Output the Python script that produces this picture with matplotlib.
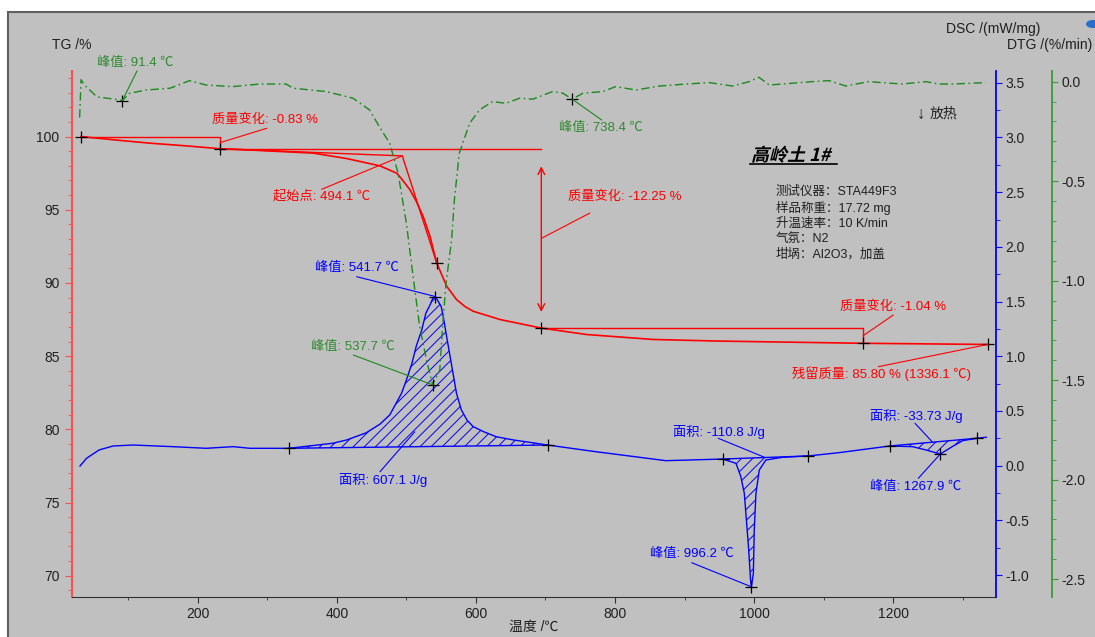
import numpy as np
import matplotlib
matplotlib.use('Agg')
import matplotlib.pyplot as plt
from matplotlib.patches import Rectangle, PathPatch, Circle
from matplotlib.textpath import TextPath
from matplotlib.font_manager import FontProperties
from matplotlib.transforms import Affine2D
from matplotlib.ticker import MultipleLocator, FormatStrFormatter

plt.rcParams['font.family'] = ['Liberation Sans', 'Noto Sans CJK SC', 'DejaVu Sans']
plt.rcParams['hatch.linewidth'] = 0.7

RED = '#ff0000'
BLUE = '#0000ff'
GREEN = '#1a8a1a'
GTXT = '#2e8b2e'

# TG curve (%)
T_tg = [32, 81, 131, 182, 232, 289, 366, 414, 462, 486, 495, 505, 514, 524, 534, 543.5,
        558, 572, 584, 596, 635, 694, 759, 855, 951, 1047, 1157, 1336.1]
tg = [100.0, 99.77, 99.55, 99.37, 99.17, 99.05, 98.87, 98.5, 98.0, 97.5, 97.0, 96.37, 95.6,
      94.55, 93.18, 91.37, 89.77, 88.87, 88.4, 88.07, 87.5, 86.92, 86.48, 86.14, 86.03,
      85.96, 85.88, 85.80]

# DTG curve (%/min)
T_dtg = [30, 32, 37, 55, 78, 91.4, 102, 126, 160, 188, 212, 250, 289, 327, 337, 385, 423,
         447, 461, 476, 488, 500, 509, 519, 529, 537.7, 548, 552, 557, 565, 569, 576, 591,
         605, 624, 643, 663, 682, 710, 725, 738.4, 754, 782, 801, 830, 864, 902, 936, 969,
         993, 1007, 1022, 1055, 1084, 1108, 1132, 1165, 1213, 1247, 1266, 1285, 1333]
dtg = [-0.18, 0.01, -0.017, -0.077, -0.087, -0.095, -0.058, -0.042, -0.033, 0.005, -0.017,
       -0.025, -0.012, -0.012, -0.033, -0.05, -0.083, -0.142, -0.226, -0.31, -0.46, -0.712,
       -0.963, -1.23, -1.40, -1.524, -1.45, -1.23, -1.013, -0.795, -0.594, -0.36, -0.209,
       -0.142, -0.1, -0.109, -0.083, -0.088, -0.05, -0.058, -0.088, -0.058, -0.05, -0.025,
       -0.042, -0.022, -0.012, -0.005, -0.022, 0.0, 0.022, -0.017, -0.008, 0.0, 0.005,
       -0.022, 0.0, -0.012, 0.0, -0.012, -0.012, -0.005]

# DSC curve (mW/mg)
T_dsc = [30.5, 40, 58, 78, 107, 164, 212, 251, 275, 331, 394, 414, 442, 462, 476, 486, 493,
         500, 508, 514, 522, 528, 534, 538, 541.7, 550, 553, 557, 562, 567, 572, 579, 587,
         596, 611, 629, 654, 677, 703, 770, 835, 873, 907, 954.7, 974, 981, 986, 989, 992,
         995, 996.2, 999, 1000.3, 1002.7, 1007.5, 1017, 1041, 1078, 1122, 1170, 1195, 1228,
         1247, 1267.9, 1285, 1300, 1321, 1334]
dsc = [-0.003, 0.068, 0.144, 0.18, 0.189, 0.174, 0.159, 0.174, 0.159, 0.159, 0.205, 0.235,
       0.30, 0.38, 0.464, 0.58, 0.662, 0.784, 0.937, 1.089, 1.24, 1.394, 1.47, 1.53, 1.546,
       1.455, 1.363, 1.211, 1.028, 0.845, 0.662, 0.51, 0.418, 0.357, 0.311, 0.265, 0.235,
       0.214, 0.189, 0.13, 0.077, 0.046, 0.052, 0.061, 0.022, -0.1, -0.253, -0.497, -0.741,
       -1.046, -1.107, -0.985, -0.588, -0.253, -0.04, 0.052, 0.077, 0.089, 0.119, 0.159,
       0.18, 0.174, 0.144, 0.107, 0.174, 0.229, 0.251, 0.26]

mass_T = [32, 232, 694, 1157]
onset_T = 494.1
onset_v = 98.68
infl_T = 543.5
residual_T = 1336.1
dtg_peaks = [91.4, 537.7, 738.4]
dsc_peaks = [541.7, 996.2, 1267.9]
dsc_areas = [(331, 703), (954.7, 1078), (1195, 1321)]

T_tg, tg = np.array(T_tg), np.array(tg)
T_dtg, dtg = np.array(T_dtg), np.array(dtg)
T_dsc, dsc = np.array(T_dsc), np.array(dsc)

W, H = 1095, 637
fig = plt.figure(figsize=(W / 100, H / 100), dpi=100)
fig.patch.set_facecolor('white')
fig.add_artist(Rectangle((8 / W, -0.01), 1, 1 - 12 / H + 0.01, transform=fig.transFigure,
                         facecolor='#c0c0c0', edgecolor='#606060', lw=1.5, zorder=-5))
fig.add_artist(Circle((1093 / W, 1 - 24 / H), 7 / W, transform=fig.transFigure,
                      facecolor='#2a6fd0', edgecolor='none', zorder=-4))


def fp(x, y):
    return (x / W, 1 - y / H)


ax = fig.add_axes([72 / W, 1 - 597 / H, 924 / W, 526.3 / H])
ax.set_facecolor('none')
ax2 = ax.twinx()
ax3 = ax.twinx()

ax.set_xlim(19, 1348)
ax.set_ylim(68.55, 104.5)
ax2.set_ylim(-1.20, 3.61)
ax3.set_ylim(-2.59, 0.055)

for a in (ax, ax2, ax3):
    a.spines['top'].set_visible(False)
ax.spines['right'].set_visible(False)
ax.spines['left'].set_color('#ff5050')
ax.spines['left'].set_linewidth(1.5)
ax.spines['bottom'].set_color('#303030')
ax2.spines['left'].set_visible(False)
ax2.spines['bottom'].set_visible(False)
ax2.spines['right'].set_color(BLUE)
ax2.spines['right'].set_linewidth(1.3)
ax3.spines['left'].set_visible(False)
ax3.spines['bottom'].set_visible(False)
ax3.spines['right'].set_position(('axes', 1.0606))
ax3.spines['right'].set_color('#3a9a3a')
ax3.spines['right'].set_linewidth(1.3)

ax.xaxis.set_major_locator(MultipleLocator(200))
ax.xaxis.set_minor_locator(MultipleLocator(100))
ax.yaxis.set_major_locator(MultipleLocator(5))
ax.yaxis.set_minor_locator(MultipleLocator(1))
ax2.yaxis.set_major_locator(MultipleLocator(0.5))
ax2.yaxis.set_minor_locator(MultipleLocator(0.25))
ax3.yaxis.set_major_locator(MultipleLocator(0.5))
ax3.yaxis.set_minor_locator(MultipleLocator(0.1))

lab = dict(labelsize=10, labelcolor='#202020')
ax.tick_params(axis='x', which='major', length=4, color='#303030', pad=3, **lab)
ax.tick_params(axis='x', which='minor', length=2.5, color='#303030')
ax.tick_params(axis='y', which='major', length=5, color='#ff5050', pad=4, **lab)
ax.tick_params(axis='y', which='minor', length=3, color='#ff5050')
ax2.tick_params(axis='y', which='major', length=4, color=BLUE, pad=3, **lab)
ax2.tick_params(axis='y', which='minor', length=3, color=BLUE)
ax3.tick_params(axis='y', which='major', length=4, color='#3a9a3a', pad=3, **lab)
ax3.tick_params(axis='y', which='minor', length=3, color='#3a9a3a')
ax2.yaxis.set_major_formatter(FormatStrFormatter('%.1f'))
ax3.yaxis.set_major_formatter(FormatStrFormatter('%.1f'))

# TG curve and evaluation lines
ax.plot(T_tg, tg, color=RED, lw=1.2)
lv = np.interp(mass_T, T_tg, tg)
ax.plot([mass_T[0], mass_T[1], mass_T[1]], [lv[0], lv[0], lv[1]], color=RED, lw=1)
ax.plot([mass_T[1], mass_T[2]], [lv[1], lv[1]], color=RED, lw=1)
ax.plot([mass_T[2], mass_T[3], mass_T[3]], [lv[2], lv[2], lv[3]], color=RED, lw=1)
ax.annotate('', xy=(mass_T[2], lv[2] + 1.1), xytext=(mass_T[2], lv[1] - 1.2),
            arrowprops=dict(arrowstyle='<->', color=RED, lw=1, mutation_scale=12,
                            shrinkA=0, shrinkB=0))
infl_v = np.interp(infl_T, T_tg, tg)
ax.plot([mass_T[1], onset_T, infl_T], [lv[1], onset_v, infl_v], color=RED, lw=1)
tg_marks = [mass_T[0], mass_T[1], infl_T, mass_T[2], mass_T[3], residual_T]
ax.plot(tg_marks, np.interp(tg_marks, T_tg, tg), '+', color='black', ms=8, mew=0.9)

# DSC curve with integrated areas
ax2.plot(T_dsc, dsc, color=BLUE, lw=1)
for t0, t1 in dsc_areas:
    v0, v1 = np.interp([t0, t1], T_dsc, dsc)
    m = (T_dsc >= t0) & (T_dsc <= t1)
    seg_T = T_dsc[m]
    base = np.interp(seg_T, [t0, t1], [v0, v1])
    ax2.fill_between(seg_T, dsc[m], base, facecolor='none', edgecolor=BLUE, hatch='///', lw=0)
    ax2.plot([t0, t1], [v0, v1], color=BLUE, lw=1)
dsc_marks = [t for ab in dsc_areas for t in ab] + dsc_peaks
ax2.plot(dsc_marks, np.interp(dsc_marks, T_dsc, dsc), '+', color='black', ms=8, mew=0.9)

# DTG curve
ax3.plot(T_dtg, dtg, color=GREEN, lw=1, linestyle=(0, (6, 2.5, 1.2, 2.5)))
ax3.plot(dtg_peaks, np.interp(dtg_peaks, T_dtg, dtg), '+', color='black', ms=8, mew=0.9)


def label(text, x, y, color):
    fig.text(x / W, 1 - y / H, text, color=color, fontsize=9.5, va='center', ha='left')


def leader(a, start, xy, color):
    a.annotate('', xy=xy, xycoords='data', xytext=fp(*start), textcoords='figure fraction',
               arrowprops=dict(arrowstyle='-', color=color, lw=0.8, shrinkA=0, shrinkB=0),
               annotation_clip=False)


pk = lambda t: (t, np.interp(t, T_dtg, dtg))
pd_ = lambda t: (t, np.interp(t, T_dsc, dsc))

label('峰值: 91.4 ℃', 97, 63, GTXT)
leader(ax3, (137, 71), pk(dtg_peaks[0]), GREEN)
label('质量变化: -0.83 %', 212, 120, RED)
leader(ax, (266.7, 128.3), (mass_T[1], (lv[0] + lv[1]) / 2), RED)
label('起始点: 494.1 ℃', 273, 196, RED)
leader(ax, (321.7, 189.3), (onset_T, onset_v), RED)
label('峰值: 541.7 ℃', 315, 268, BLUE)
leader(ax2, (356.7, 276.7), pd_(dsc_peaks[0]), BLUE)
label('峰值: 537.7 ℃', 311, 347, GTXT)
leader(ax3, (353.3, 355), pk(dtg_peaks[1]), GREEN)
label('面积: 607.1 J/g', 339, 480, BLUE)
leader(ax2, (380, 471.7), (512, 0.31), BLUE)
label('峰值: 738.4 ℃', 559, 128, GTXT)
leader(ax3, (601.7, 120), pk(dtg_peaks[2]), GREEN)
label('质量变化: -12.25 %', 568, 197, RED)
leader(ax, (590, 213), (mass_T[2], (lv[1] + lv[2]) / 2), RED)
label('质量变化: -1.04 %', 840, 307, RED)
leader(ax, (893.3, 315), (mass_T[3], (lv[2] + lv[3]) / 2), RED)
label('残留质量: 85.80 % (1336.1 ℃)', 792, 374, RED)
leader(ax, (878.3, 366.7), (residual_T, np.interp(residual_T, T_tg, tg)), RED)
label('面积: -110.8 J/g', 673, 432, BLUE)
leader(ax2, (718.3, 438.3), (1015, 0.077), BLUE)
label('峰值: 996.2 ℃', 650, 554, BLUE)
leader(ax2, (691.7, 562.7), pd_(dsc_peaks[1]), BLUE)
label('面积: -33.73 J/g', 870, 416, BLUE)
leader(ax2, (915, 423.3), (1256, 0.22), BLUE)
label('峰值: 1267.9 ℃', 870, 487, BLUE)
leader(ax2, (918.3, 478.3), pd_(dsc_peaks[2]), BLUE)

# axis titles
fig.text(52 / W, 1 - 45 / H, 'TG /%', fontsize=10, va='center', color='#202020')
fig.text(946 / W, 1 - 29 / H, 'DSC /(mW/mg)', fontsize=10, va='center', color='#202020')
fig.text(1007 / W, 1 - 45 / H, 'DTG /(%/min)', fontsize=10, va='center', color='#202020')
fig.text(534 / W, 1 - 627 / H, '温度 /℃', fontsize=10, va='center', ha='center', color='#202020')
fig.text(917 / W, 1 - 114 / H, '↓', fontsize=12, va='center', color='#202020')
fig.text(930 / W, 1 - 114 / H, '放热', fontsize=10, va='center', color='#202020')

# sample title, bold italic underlined
tp = TextPath((0, 0), '高岭土 1#', size=18,
              prop=FontProperties(family=['Noto Sans CJK SC'], weight='bold'))
fig.add_artist(PathPatch(tp, transform=Affine2D().skew_deg(14, 0).translate(751, H - 161),
                         facecolor='black', edgecolor='none'))
fig.add_artist(plt.Line2D([750 / W, 837 / W], [1 - 164 / H, 1 - 164 / H], color='black',
                          lw=1.2, transform=fig.transFigure))

info = ['测试仪器：STA449F3', '样品称重：17.72 mg', '升温速率：10 K/min',
        '气氛：N2', '坩埚：Al2O3，加盖']
for i, line in enumerate(info):
    fig.text(776 / W, 1 - (191.7 + i * 15.8) / H, line, fontsize=9, va='center',
             color='#202020')

fig.savefig('out.png', dpi=100)
